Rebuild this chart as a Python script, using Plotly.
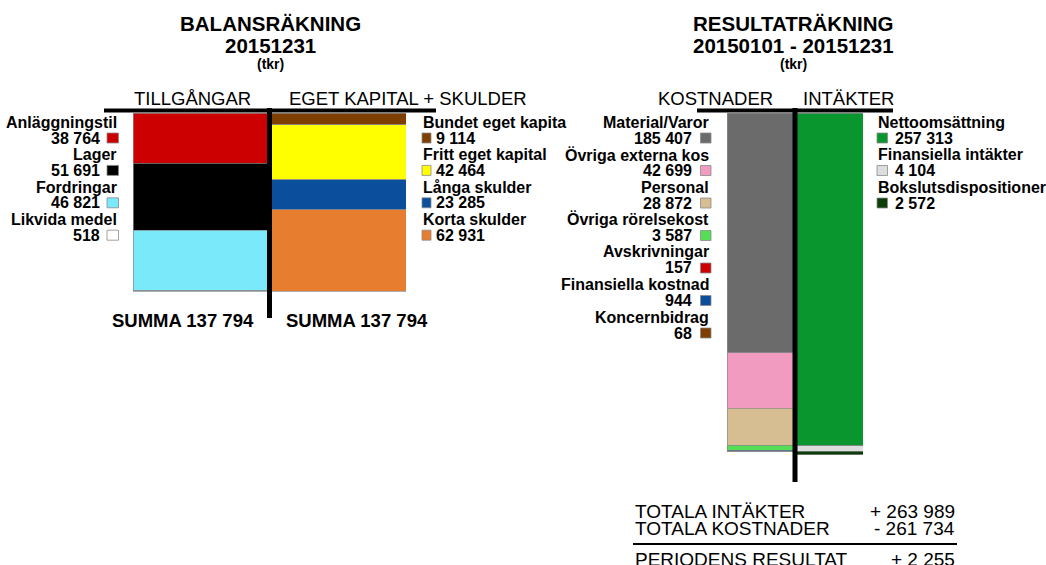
import plotly.graph_objects as go

# ---------------- data ----------------
bal_categories = ["TILLGÅNGAR", "EGET KAPITAL + SKULDER"]
asset_labels = ["Anläggningstil", "Lager", "Fordringar", "Likvida medel"]
asset_values = [38764, 51691, 46821, 518]
asset_colors = ["#CC0000", "#000000", "#7AEAFA", "#FFFFFF"]

liab_labels = ["Bundet eget kapita", "Fritt eget kapital", "Långa skulder", "Korta skulder"]
liab_values = [9114, 42464, 23285, 62931]
liab_colors = ["#7F3F00", "#FFFF00", "#0B4E9C", "#E77D2F"]

res_categories = ["KOSTNADER", "INTÄKTER"]
cost_labels = ["Material/Varor", "Övriga externa kos", "Personal", "Övriga rörelsekost",
               "Avskrivningar", "Finansiella kostnad", "Koncernbidrag"]
cost_values = [185407, 42699, 28872, 3587, 157, 944, 68]
cost_colors = ["#6B6B6B", "#F09BBF", "#D6BE92", "#55DD55", "#CC0000", "#0B4E9C", "#7F3F00"]

inc_labels = ["Nettoomsättning", "Finansiella intäkter", "Bokslutsdispositioner"]
inc_values = [257313, 4104, 2572]
inc_colors = ["#0A962E", "#DDDDDD", "#0B3D0B"]

bal_title = ["BALANSRÄKNING", "20151231", "(tkr)"]
res_title = ["RESULTATRÄKNING", "20150101 - 20151231", "(tkr)"]

# ---------------- layout helpers ----------------
W, H = 1046, 565
FONT = "Liberation Sans, Arial, sans-serif"
UNITS_PER_PX = 773.0
Y0_PX = 113  # pixel row of value 0
LEG = 16


def px(x):
    return x / W


def py(y):
    return 1 - y / H


def fmt(v):
    return f"{v:,}".replace(",", " ")


fig = go.Figure()


def add_stack(cat, labels, values, colors, xaxis):
    for lab, val, col in zip(labels, values, colors):
        fig.add_trace(go.Bar(
            x=[cat], y=[val], name=lab, xaxis=xaxis, yaxis="y", width=1,
            marker=dict(color=col, line=dict(color="#8A8A8A", width=0.7)),
            showlegend=False,
            hovertemplate=f"{lab}: {fmt(val)}<extra></extra>",
        ))


add_stack(bal_categories[0], asset_labels, asset_values, asset_colors, "x")
add_stack(bal_categories[1], liab_labels, liab_values, liab_colors, "x")
add_stack(res_categories[0], cost_labels, cost_values, cost_colors, "x2")
add_stack(res_categories[1], inc_labels, inc_values, inc_colors, "x2")

annotations = []
shapes = []


def text(x, y, s, size=LEG, bold=True, anchor="center"):
    annotations.append(dict(
        x=px(x), y=py(y), xref="paper", yref="paper", text=s, showarrow=False,
        xanchor=anchor, yanchor="middle",
        font=dict(family=FONT, size=size, color="#000000", weight="bold" if bold else "normal"),
    ))


def swatch(x0, x1, yc, h, color):
    shapes.append(dict(
        type="rect", xref="paper", yref="paper",
        x0=px(x0), x1=px(x1), y0=py(yc - h / 2), y1=py(yc + h / 2),
        fillcolor=color, line=dict(color="#8A8A8A", width=0.8), layer="above",
    ))


def hline(x0, x1, y, w):
    shapes.append(dict(type="line", xref="paper", yref="paper",
                       x0=px(x0), x1=px(x1), y0=py(y), y1=py(y),
                       line=dict(color="#000000", width=w)))


def vline(xref, y0, y1, w):
    shapes.append(dict(type="line", xref=xref, yref="paper",
                       x0=0.5, x1=0.5, y0=py(y0), y1=py(y1),
                       line=dict(color="#000000", width=w)))


# titles
for cx, lines in ((270, bal_title), (793, res_title)):
    text(cx, 23, lines[0], size=20.5)
    text(cx, 45, lines[1], size=20.5)
    text(cx, 64, lines[2], size=14)

# column headers
text(192, 99, bal_categories[0], size=18.5, bold=False)
text(408, 99, bal_categories[1], size=18.5, bold=False)
text(715, 99, res_categories[0], size=18.5, bold=False)
text(848, 99, res_categories[1], size=18.5, bold=False)

# structure lines
hline(104, 436, 110.5, 4)
hline(697, 893, 110.5, 4)
vline("x", 108, 318, 5)
vline("x2", 108, 482, 5)

STEP = 32.4
# balance left legend (right aligned)
for i, (lab, val, col) in enumerate(zip(asset_labels, asset_values, asset_colors)):
    yl = 122.5 + STEP * i
    yv = yl + 15.5
    text(119, yl, lab, anchor="right")
    text(102, yv, fmt(val), anchor="right")
    swatch(107, 118.5, yv, 10, col)

# balance right legend
for i, (lab, val, col) in enumerate(zip(liab_labels, liab_values, liab_colors)):
    yl = 122.5 + STEP * i
    yv = yl + 15.5
    text(421, yl, lab, anchor="left")
    text(434, yv, fmt(val), anchor="left")
    swatch(422, 431, yv, 10, col)

# result left legend
STEP2 = 32.5
for i, (lab, val, col) in enumerate(zip(cost_labels, cost_values, cost_colors)):
    yl = 122 + STEP2 * i
    yv = yl + 16
    text(711, yl, lab, anchor="right")
    text(694, yv, fmt(val), anchor="right")
    swatch(700.5, 711, yv, 10, col)

# result right legend
for i, (lab, val, col) in enumerate(zip(inc_labels, inc_values, inc_colors)):
    yl = 122 + STEP2 * i
    yv = yl + 16
    text(876, yl, lab, anchor="left")
    text(893, yv, fmt(val), anchor="left")
    swatch(877, 887.5, yv, 10, col)

# sums
text(182.5, 320, f"SUMMA {fmt(sum(asset_values))}", size=18.5)
text(356.5, 320, f"SUMMA {fmt(sum(liab_values))}", size=18.5)

tot_inc = sum(inc_values)
tot_cost = sum(cost_values)
result = tot_inc - tot_cost
TS = 19
text(633, 511, "TOTALA INTÄKTER", size=TS, bold=False, anchor="left")
text(957, 511, f"+ {fmt(tot_inc)}", size=TS, bold=False, anchor="right")
text(633, 528, "TOTALA KOSTNADER", size=TS, bold=False, anchor="left")
text(957, 528, f"- {fmt(tot_cost)}", size=TS, bold=False, anchor="right")
hline(633, 957, 544, 2)
text(633, 559, "PERIODENS RESULTAT", size=TS, bold=False, anchor="left")
text(957, 559, f"{'+' if result >= 0 else '-'} {fmt(abs(result))}", size=TS, bold=False, anchor="right")

fig.update_layout(
    width=W, height=H,
    margin=dict(l=0, r=0, t=0, b=0),
    paper_bgcolor="#FFFFFF", plot_bgcolor="rgba(0,0,0,0)",
    barmode="stack",
    xaxis=dict(domain=[px(133), px(406)], range=[-0.5, 1.5], visible=False,
               type="category", categoryorder="array", categoryarray=bal_categories, fixedrange=True),
    xaxis2=dict(domain=[px(727), px(863)], range=[-0.5, 1.5], visible=False,
                type="category", categoryorder="array", categoryarray=res_categories,
                anchor="y", fixedrange=True),
    yaxis=dict(domain=[0, 1], range=[(H - Y0_PX) * UNITS_PER_PX, -Y0_PX * UNITS_PER_PX],
               visible=False, fixedrange=True),
    annotations=annotations,
    shapes=shapes,
    font=dict(family=FONT),
)

fig.write_html(
    "out.html",
    config={"displayModeBar": False},
    post_script="document.body.style.margin='0';document.body.style.padding='0';"
                "document.body.style.overflow='hidden';",
)
